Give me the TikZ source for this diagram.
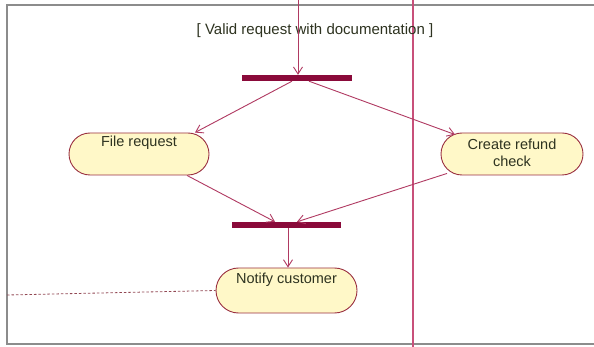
\documentclass[tikz,border=0pt]{standalone}
\usepackage{fontspec}
\setmainfont{Liberation Sans}
\usetikzlibrary{arrows.meta,shapes.misc,calc}
\definecolor{lnk}{HTML}{B03A62}
\definecolor{lanec}{HTML}{C8507A}
\definecolor{barc}{HTML}{8A0A3A}
\definecolor{actfill}{HTML}{FFF8C8}
\definecolor{actdraw}{HTML}{9A3040}
\definecolor{txt}{HTML}{2E3320}
\definecolor{frm}{HTML}{8C8C8C}
\tikzset{
  act/.style={rounded rectangle, draw=actdraw, fill=actfill, line width=0.9pt, inner sep=0pt},
  syncbar/.style={rectangle, fill=barc, inner sep=0pt, minimum height=6pt},
  lbl/.style={text=txt, font=\fontsize{14.5}{17}\selectfont, inner sep=0pt, align=center},
  flow/.style={draw=lnk, line width=0.9pt, -{Straight Barb[length=7pt,width=9pt,line width=0.9pt]}},
}
\begin{document}
\begin{tikzpicture}[x=1pt,y=-1pt]
\useasboundingbox (0,0) rectangle (594,347);
\fill[white] (0,0) rectangle (594,347);
% frame
\draw[frm, line width=1.5pt] (595,5) -- (7,5) -- (7,344) -- (595,344);
% swimlane
\coordinate (laneTop) at (413,0);
\coordinate (laneBot) at (413,347);
\draw[lanec, line width=1.1pt] (laneTop) -- (laneBot);
% guard text
\node[lbl, font=\fontsize{15}{17}\selectfont] (guard) at (315,31) {[ Valid request with documentation ]};
% bars
\node[syncbar, minimum width=110pt] (fork) at (297,78) {};
\node[syncbar, minimum width=109pt] (join) at (286.5,225) {};
% activities
\node[act, minimum width=140pt, minimum height=42pt] (fr) at (139,154) {};
\node[lbl] (frT) at (139,143) {File request};
\node[act, minimum width=142pt, minimum height=42pt] (cr) at (512,154) {};
\node[lbl] (crT) at (512,152.5) {Create refund\\check};
\node[act, minimum width=141pt, minimum height=45pt] (nc) at (286.5,290.5) {};
\node[lbl] (ncT) at (286.5,280) {Notify customer};
% incoming
\coordinate (inTop) at (298,0);
\draw[flow] (inTop) -- (fork.north -| inTop);
% fork to activities
\draw[flow] ($(fork.south)+(-5,0)$) -- ($(fr.north)+(56,0)$);
\draw[flow] ($(fork.south)+(12,0)$) -- ($(cr.north)+(-57,2)$);
% activities to join
\draw[flow] ($(fr.south)+(48,0)$) -- ($(join.north)+(-11.5,0)$);
\draw[flow] ($(cr.south)+(-65,-2)$) -- ($(join.north)+(10.5,0)$);
% join to notify
\draw[flow] ($(join.south)+(1.5,0)$) -- (nc.north -| 288,0);
% dashed link
\coordinate (dl) at (7,295);
\draw[actdraw!70!gray, line width=0.8pt, dash pattern=on 2.5pt off 2pt] (dl) -- (nc.west);
\end{tikzpicture}
\end{document}
